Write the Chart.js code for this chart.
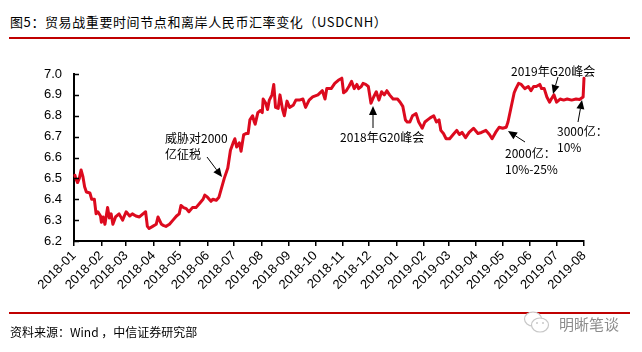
<!DOCTYPE html>
<html>
<head>
<meta charset="utf-8">
<script src="https://cdn.jsdelivr.net/npm/chart.js@4.4.0/dist/chart.umd.min.js"></script>
<style>
  body { margin: 0; width: 642px; height: 352px; background: #fff; position: relative; overflow: hidden; font-family: "Noto Sans CJK SC", sans-serif; }
  #fxChart { position: absolute; left: 0; top: 0; }
  .rule { position: absolute; left: 9px; width: 621px; height: 2px; background: #c00000; }
  #title { position: absolute; left: 10px; top: 13px; font-size: 13px; line-height: 17px; letter-spacing: 0.6px; color: #000; white-space: nowrap; }
  #source { position: absolute; left: 10px; top: 324px; font-size: 12px; line-height: 16px; color: #000; white-space: nowrap; }
  #mark { position: absolute; left: 523px; top: 309px; height: 28px; display: flex; align-items: center; color: #8c8c8c; font-size: 15px; white-space: nowrap; }
  #mark svg { margin-right: 8px; }
</style>
</head>
<body>
<div id="title">图5：贸易战重要时间节点和离岸人民币汇率变化（USDCNH）</div>
<div class="rule" style="top: 37px"></div>
<div class="rule" style="top: 312px"></div>
<canvas id="fxChart" width="642" height="352"></canvas>
<div id="source">资料来源：Wind ，中信证券研究部</div>
<div id="mark">
  <svg width="28" height="26" viewBox="0 0 28 26">
    <ellipse cx="10" cy="9" rx="8.5" ry="7" fill="#fff" stroke="#c8c8c8" stroke-width="1.2"/>
    <ellipse cx="17" cy="15" rx="8.5" ry="7" fill="#fff" stroke="#c8c8c8" stroke-width="1.2"/>
    <circle cx="14" cy="13" r="1" fill="#c8c8c8"/><circle cx="20" cy="13" r="1" fill="#c8c8c8"/>
  </svg>
  明晰笔谈
</div>
<script>
// USDCNH
const dates = [
  "2018-01-02", "2018-01-03", "2018-01-05", "2018-01-07", "2018-01-09", "2018-01-11", "2018-01-13", "2018-01-15",
  "2018-01-19", "2018-01-21", "2018-01-24", "2018-01-26", "2018-01-28", "2018-01-31", "2018-02-01", "2018-02-03",
  "2018-02-05", "2018-02-08", "2018-02-10", "2018-02-12", "2018-02-14", "2018-02-17", "2018-02-21", "2018-02-25",
  "2018-03-01", "2018-03-05", "2018-03-08", "2018-03-12", "2018-03-16", "2018-03-20", "2018-03-23", "2018-03-25",
  "2018-03-27", "2018-03-31", "2018-04-04", "2018-04-06", "2018-04-10", "2018-04-12", "2018-04-15", "2018-04-19",
  "2018-04-23", "2018-04-27", "2018-04-30", "2018-05-02", "2018-05-05", "2018-05-08", "2018-05-11", "2018-05-15",
  "2018-05-19", "2018-05-23", "2018-05-27", "2018-05-29", "2018-06-01", "2018-06-05", "2018-06-07", "2018-06-11",
  "2018-06-14", "2018-06-16", "2018-06-20", "2018-06-24", "2018-06-27", "2018-06-30", "2018-07-02", "2018-07-04",
  "2018-07-07", "2018-07-09", "2018-07-12", "2018-07-15", "2018-07-17", "2018-07-19", "2018-07-22", "2018-07-24",
  "2018-07-25", "2018-07-28", "2018-07-31", "2018-08-02", "2018-08-03", "2018-08-06", "2018-08-08", "2018-08-10",
  "2018-08-13", "2018-08-15", "2018-08-17", "2018-08-20", "2018-08-22", "2018-08-25", "2018-08-27", "2018-08-30",
  "2018-09-02", "2018-09-06", "2018-09-09", "2018-09-13", "2018-09-17", "2018-09-20", "2018-09-24", "2018-09-28",
  "2018-10-04", "2018-10-09", "2018-10-12", "2018-10-14", "2018-10-19", "2018-10-23", "2018-10-27", "2018-10-31",
  "2018-11-02", "2018-11-05", "2018-11-08", "2018-11-11", "2018-11-14", "2018-11-17", "2018-11-19", "2018-11-22",
  "2018-11-24", "2018-11-27", "2018-11-30", "2018-12-03", "2018-12-06", "2018-12-09", "2018-12-12", "2018-12-15",
  "2018-12-18", "2018-12-21", "2018-12-24", "2018-12-28", "2019-01-02", "2019-01-05", "2019-01-08", "2019-01-11",
  "2019-01-13", "2019-01-16", "2019-01-19", "2019-01-23", "2019-01-26", "2019-01-30", "2019-02-02", "2019-02-05",
  "2019-02-08", "2019-02-12", "2019-02-15", "2019-02-18", "2019-02-20", "2019-02-23", "2019-02-26", "2019-03-02",
  "2019-03-06", "2019-03-10", "2019-03-13", "2019-03-16", "2019-03-20", "2019-03-24", "2019-03-29", "2019-04-03",
  "2019-04-07", "2019-04-12", "2019-04-16", "2019-04-19", "2019-04-23", "2019-04-27", "2019-05-01", "2019-05-05",
  "2019-05-07", "2019-05-10", "2019-05-14", "2019-05-16", "2019-05-19", "2019-05-22", "2019-05-26", "2019-05-30",
  "2019-06-02", "2019-06-05", "2019-06-08", "2019-06-12", "2019-06-14", "2019-06-17", "2019-06-20", "2019-06-23",
  "2019-06-25", "2019-06-28", "2019-07-01", "2019-07-05", "2019-07-09", "2019-07-13", "2019-07-18", "2019-07-23",
  "2019-07-27", "2019-07-31", "2019-08-01"
];
const usdcnh = [
  6.515, 6.50, 6.48, 6.50, 6.54, 6.51, 6.46, 6.435,
  6.43, 6.40, 6.40, 6.33, 6.34, 6.32, 6.29, 6.315,
  6.28, 6.36, 6.31, 6.33, 6.28, 6.315, 6.33, 6.30,
  6.34, 6.32, 6.33, 6.32, 6.315, 6.33, 6.34, 6.27,
  6.26, 6.27, 6.28, 6.315, 6.28, 6.275, 6.27, 6.28,
  6.30, 6.32, 6.33, 6.37, 6.36, 6.355, 6.34, 6.36,
  6.36, 6.38, 6.40, 6.42, 6.41, 6.39, 6.40, 6.395,
  6.41, 6.44, 6.50, 6.55, 6.635, 6.67, 6.69, 6.65,
  6.67, 6.63, 6.71, 6.715, 6.715, 6.78, 6.80, 6.77,
  6.76, 6.815, 6.825, 6.815, 6.88, 6.86, 6.83, 6.875,
  6.90, 6.95, 6.84, 6.835, 6.90, 6.83, 6.80, 6.87,
  6.84, 6.85, 6.875, 6.875, 6.88, 6.84, 6.875, 6.89,
  6.90, 6.92, 6.88, 6.93, 6.93, 6.955, 6.97, 6.98,
  6.91, 6.92, 6.94, 6.965, 6.93, 6.95, 6.93, 6.94,
  6.955, 6.95, 6.94, 6.86, 6.89, 6.915, 6.875, 6.915,
  6.90, 6.92, 6.90, 6.88, 6.88, 6.865, 6.845, 6.78,
  6.77, 6.77, 6.80, 6.81, 6.77, 6.74, 6.77, 6.78,
  6.79, 6.80, 6.77, 6.78, 6.73, 6.715, 6.69, 6.69,
  6.71, 6.73, 6.71, 6.72, 6.695, 6.72, 6.74, 6.715,
  6.72, 6.73, 6.71, 6.69, 6.72, 6.745, 6.74, 6.745,
  6.77, 6.83, 6.91, 6.93, 6.955, 6.95, 6.93, 6.94,
  6.92, 6.94, 6.94, 6.95, 6.93, 6.93, 6.89, 6.865,
  6.88, 6.90, 6.865, 6.88, 6.875, 6.88, 6.875, 6.88,
  6.878, 6.89, 6.98
];
const monthLabels = [
  "2018-01", "2018-02", "2018-03", "2018-04", "2018-05", "2018-06", "2018-07", "2018-08", "2018-09", "2018-10",
  "2018-11", "2018-12", "2019-01", "2019-02", "2019-03", "2019-04", "2019-05", "2019-06", "2019-07", "2019-08"
];
const yTicks = [6.2, 6.3, 6.4, 6.5, 6.6, 6.7, 6.8, 6.9, 7.0];

const notes = [
  { lines: ["威胁对2000", "亿征税"], x: 165, y: 138, from: [207, 157], to: [222, 177] },
  { lines: ["2018年G20峰会"], x: 340, y: 137, from: [373, 128], to: [373, 106] },
  { lines: ["2000亿：", "10%-25%"], x: 505, y: 153, from: [525, 142], to: [508, 131] },
  { lines: ["2019年G20峰会"], x: 511, y: 71, from: [558, 77], to: [553, 94] },
  { lines: ["3000亿：", "10%"], x: 557, y: 131, from: [578, 122], to: [582, 100] },
];

const day0 = Date.UTC(2018, 0, 1);
const toDay = (s) => {
  const [y, m, d] = s.split("-").map(Number);
  return (Date.UTC(y, m - 1, d) - day0) / 86400000;
};
const monthDays = monthLabels.map((s) => toDay(s + "-01"));

const drawArrow = (ctx, [x1, y1], [x2, y2]) => {
  const a = Math.atan2(y2 - y1, x2 - x1);
  const len = 9, half = 4;
  const bx = x2 - len * Math.cos(a), by = y2 - len * Math.sin(a);
  ctx.beginPath();
  ctx.moveTo(x1, y1);
  ctx.lineTo(bx, by);
  ctx.stroke();
  ctx.beginPath();
  ctx.moveTo(x2, y2);
  ctx.lineTo(bx + half * Math.sin(a), by - half * Math.cos(a));
  ctx.lineTo(bx - half * Math.sin(a), by + half * Math.cos(a));
  ctx.closePath();
  ctx.fill();
};

const extras = {
  id: "extras",
  afterDatasetsDraw(chart) {
    const { ctx, chartArea, scales } = chart;
    ctx.save();
    // inward ticks on the value axis
    ctx.strokeStyle = "#000";
    ctx.lineWidth = 1.5;
    yTicks.forEach((v) => {
      const y = Math.round(scales.y.getPixelForValue(v)) + 0.5;
      ctx.beginPath();
      ctx.moveTo(chartArea.left, y);
      ctx.lineTo(chartArea.left + 5, y);
      ctx.stroke();
    });
    // annotations
    ctx.fillStyle = "#000";
    ctx.lineWidth = 1;
    ctx.font = '12px "Noto Sans CJK SC", sans-serif';
    ctx.textBaseline = "middle";
    notes.forEach((n) => {
      n.lines.forEach((t, i) => ctx.fillText(t, n.x, n.y + i * 16));
      drawArrow(ctx, n.from, n.to);
    });
    ctx.restore();
  },
};

new Chart(document.getElementById("fxChart"), {
  type: "line",
  data: {
    datasets: [
      {
        label: "USDCNH",
        data: dates.map((d, i) => ({ x: toDay(d), y: usdcnh[i] })),
        borderColor: "#dc0a1e",
        borderWidth: 3,
        borderJoinStyle: "round",
        borderCapStyle: "round",
        pointRadius: 0,
        tension: 0,
        fill: false,
        clip: 6,
      },
    ],
  },
  options: {
    responsive: false,
    animation: false,
    devicePixelRatio: 1,
    layout: { padding: { top: 74, right: 58, bottom: 0, left: 0 } },
    plugins: { legend: { display: false }, tooltip: { enabled: false } },
    scales: {
      x: {
        type: "linear",
        min: 0,
        max: monthDays[monthDays.length - 1],
        afterBuildTicks: (scale) => {
          scale.ticks = monthDays.map((v) => ({ value: v }));
        },
        afterFit: (scale) => {
          scale.height = 111;
        },
        grid: { drawOnChartArea: false, drawTicks: true, tickLength: 5, color: "#000", lineWidth: 1.5 },
        border: { display: true, color: "#000", width: 2 },
        ticks: {
          autoSkip: false,
          maxRotation: 45,
          minRotation: 45,
          padding: 2,
          color: "#000",
          font: { family: '"Liberation Sans", Arial, sans-serif', size: 13 },
          callback: (v, i) => monthLabels[i],
        },
      },
      y: {
        min: 6.2,
        max: 7.0,
        afterBuildTicks: (scale) => {
          scale.ticks = yTicks.map((v) => ({ value: v }));
        },
        afterFit: (scale) => {
          scale.width = 74;
        },
        grid: { drawOnChartArea: false, drawTicks: false },
        border: { display: true, color: "#000", width: 2 },
        ticks: {
          padding: 12,
          color: "#000",
          font: { family: '"Liberation Sans", Arial, sans-serif', size: 13 },
          callback: (v) => v.toFixed(1),
        },
      },
    },
  },
  plugins: [extras],
});
</script>
</body>
</html>
